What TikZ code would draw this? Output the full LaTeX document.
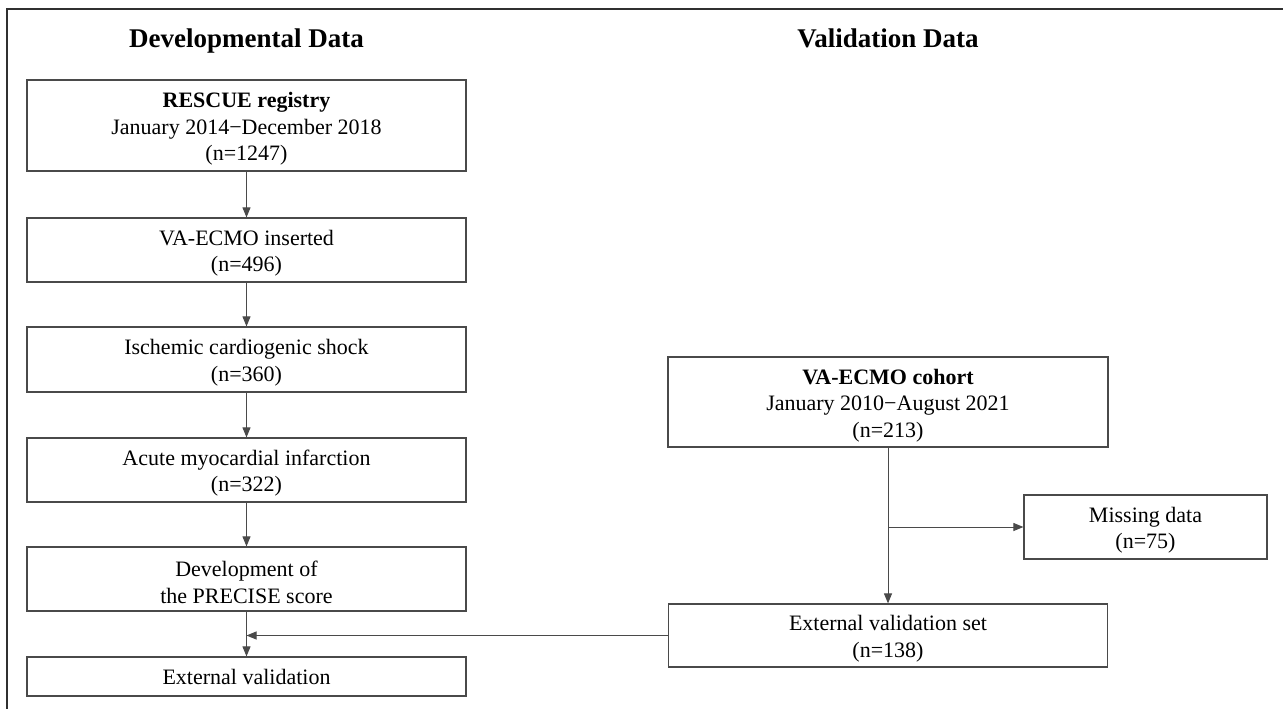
\documentclass[tikz,border=0pt]{standalone}
\usepackage{fontspec}
\setmainfont{Liberation Serif}
\usetikzlibrary{arrows.meta}
\definecolor{linegray}{HTML}{4A4A4A}
\definecolor{framegray}{HTML}{303030}
\newcommand{\topstrut}{\rule{0pt}{22pt}}
\begin{document}
\begin{tikzpicture}[x=1pt,y=-1pt,
  bodyfont/.style={font=\fontsize{22}{26.5}\selectfont},
  titlefont/.style={font=\fontsize{27}{30}\selectfont\bfseries},
  flowbox/.style={draw=linegray,line width=1.2pt,align=center,inner sep=0pt,bodyfont,text=black},
  arr/.style={draw=linegray,line width=1pt,-{Triangle[length=10pt,width=8pt]}},
  frameline/.style={draw=framegray,line width=2pt}]
\useasboundingbox (0,0) rectangle (1283,709);
\fill[white] (0,0) rectangle (1283,709);
% frame
\coordinate (fa) at (7,709);
\coordinate (fb) at (7,9);
\coordinate (fc) at (1283,9);
\draw[frameline] (fa) -- (fb) -- (fc);
% titles
\node[titlefont,anchor=base] (t1) at (246.5,48) {Developmental Data};
\node[titlefont,anchor=base] (t2) at (888,48) {Validation Data};
% left column
\node[flowbox,minimum width=439pt,minimum height=91pt] (b1) at (246.5,125.5) {\topstrut\textbf{RESCUE registry}\\January 2014−December 2018\\(n=1247)};
\node[flowbox,minimum width=439pt,minimum height=64pt] (b2) at (246.5,250) {\topstrut VA-ECMO inserted\\(n=496)};
\node[flowbox,minimum width=439pt,minimum height=65pt] (b3) at (246.5,359.5) {\topstrut Ischemic cardiogenic shock\\(n=360)};
\node[flowbox,minimum width=439pt,minimum height=64pt] (b4) at (246.5,470) {\topstrut Acute myocardial infarction\\(n=322)};
\node[flowbox,minimum width=439pt,minimum height=64pt] (b5) at (246.5,579) {\topstrut Development of\\the PRECISE score};
\node[flowbox,minimum width=439pt,minimum height=39pt] (b6) at (246.5,676.5) {External validation};
% right column
\node[flowbox,minimum width=440pt,minimum height=90pt] (r1) at (888,402) {\topstrut\textbf{VA-ECMO cohort}\\January 2010−August 2021\\(n=213)};
\node[flowbox,minimum width=243pt,minimum height=64pt] (miss) at (1145.5,527) {\topstrut Missing data\\(n=75)};
\node[flowbox,minimum width=439pt,minimum height=63pt] (r2) at (888,635.5) {\topstrut External validation set\\(n=138)};
% connectors
\draw[arr] (b1.south) -- (b2.north);
\draw[arr] (b2.south) -- (b3.north);
\draw[arr] (b3.south) -- (b4.north);
\draw[arr] (b4.south) -- (b5.north);
\draw[arr] (b5.south) -- (b6.north);
\coordinate (j) at (b5.south |- r2.west);
\draw[arr] (r2.west) -- (j);
\draw[arr] (r1.south) -- (r2.north);
\coordinate (k) at (r1.south |- miss.west);
\draw[arr] (k) -- (miss.west);
\end{tikzpicture}
\end{document}
